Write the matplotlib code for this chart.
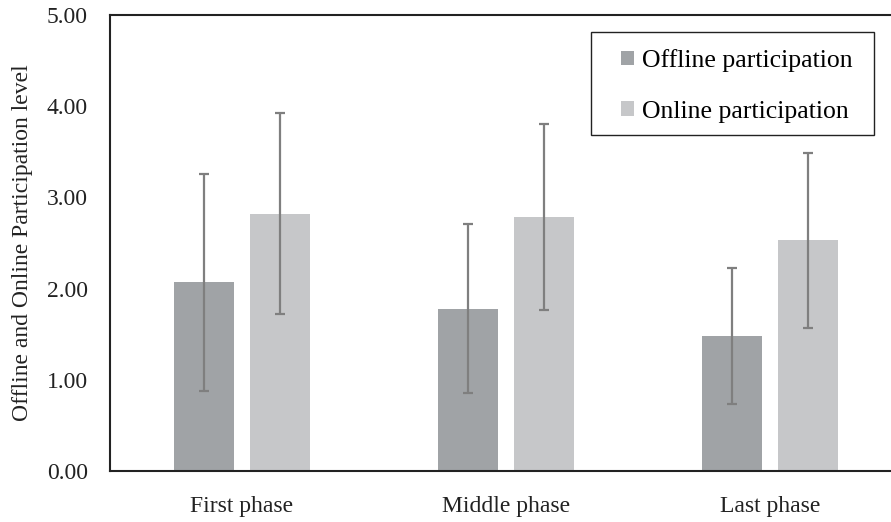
import numpy as np
import matplotlib
matplotlib.use("Agg")
import matplotlib.pyplot as plt
from matplotlib.patches import Rectangle

plt.rcParams['font.family'] = ['Liberation Serif', 'DejaVu Serif']

phases = ["First phase", "Middle phase", "Last phase"]
offline = [2.07, 1.78, 1.48]
offline_err = [1.19, 0.93, 0.75]
online = [2.82, 2.79, 2.53]
online_err = [1.10, 1.02, 0.96]
yticks = [0, 1, 2, 3, 4, 5]

W, H = 891, 522
fig = plt.figure(figsize=(W / 100, H / 100), dpi=100, facecolor='white')
ax = fig.add_axes([110/W, 51/H, 792/W, 456/H])

x = np.arange(len(phases))
w = 0.227
off = 0.144
err_kw = dict(ecolor='#7f7f7f', elinewidth=1.6, capsize=3.6, capthick=1.6)
ax.bar(x - off, offline, w, yerr=offline_err, color='#a0a3a6',
       label='Offline participation', error_kw=err_kw)
ax.bar(x + off, online, w, yerr=online_err, color='#c6c7c9',
       label='Online participation', error_kw=err_kw)

ax.set_xlim(-0.5, 2.5)
ax.set_ylim(0, 5)
ax.set_yticks(yticks)
ax.set_yticklabels([f"{v:.2f}" for v in yticks])
ax.set_xticks(x)
ax.set_xticklabels(phases)
ax.tick_params(axis='both', length=0, labelsize=17, colors='#222222')
ax.tick_params(axis='y', pad=16)
ax.tick_params(axis='x', pad=18)
for s in ax.spines.values():
    s.set_linewidth(1.5)
    s.set_color('#222222')
ax.set_ylabel("Offline and Online Participation level", fontsize=17,
              labelpad=10, color='#222222')

# legend without its own frame; box drawn separately so the padding
# can be wider on the left like the original
leg = fig.legend(loc='upper left', bbox_to_anchor=(621/W, 1 - 49/H),
                 bbox_transform=fig.transFigure, fontsize=18.5,
                 frameon=False, handlelength=0.5, handleheight=0.5,
                 handletextpad=0.3, labelspacing=1.12,
                 borderpad=0, borderaxespad=0)
fig.add_artist(Rectangle((591/W, 1 - 135/H), 283/W, 103/H,
                         transform=fig.transFigure, fill=False,
                         edgecolor='#222222', linewidth=1.0))

fig.savefig("out.png", dpi=100, facecolor='white')
